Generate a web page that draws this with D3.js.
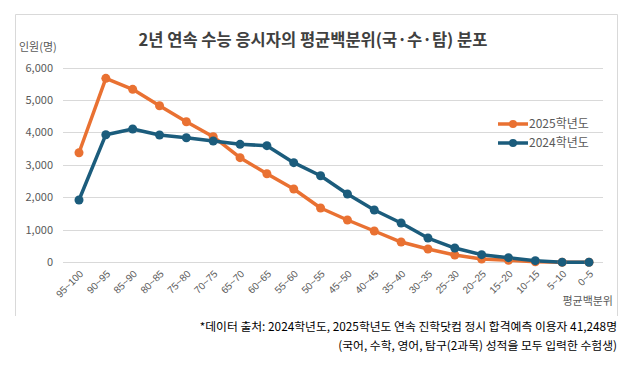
<!DOCTYPE html>
<html><head><meta charset="utf-8">
<script src="https://cdn.jsdelivr.net/npm/d3@7"></script>
<style>
body{margin:0;background:#fff;}
svg{display:block;font-family:"Noto Sans CJK KR","Noto Sans",sans-serif;}
</style></head>
<body>
<svg id="c" width="635" height="365"></svg>
<script>
const categories = ["95~100","90~95","85~90","80~85","75~80","70~75","65~70","60~65","55~60","50~55","45~50","40~45","35~40","30~35","25~30","20~25","15~20","10~15","5~10","0~5"];
const values2025 = [3375,5667,5328,4823,4330,3868,3222,2729,2257,1672,1303,964,625,410,225,100,60,15,0,0];
const values2024 = [1919,3930,4105,3920,3837,3736,3634,3592,3068,2667,2103,1610,1210,748,440,235,142,50,5,0];
const yTicks = [0,1000,2000,3000,4000,5000,6000];
const seriesNames = ["2025학년도","2024학년도"];
const colors = ["#E97132","#1B5C7C"];

const svg = d3.select("#c");
// frame
svg.append("path").attr("d","M15.5,316 V14.5 H617.5 V316").attr("fill","none").attr("stroke","#d9d9d9").attr("stroke-width",1);

const x = d3.scalePoint().domain(categories).range([79,589]);
const y = d3.scaleLinear().domain([0,6000]).range([262.3,67.5]);

// gridlines
svg.append("g").selectAll("line").data(yTicks).join("line")
  .attr("x1",63).attr("x2",603)
  .attr("y1",d=>Math.round(y(d))+0.5).attr("y2",d=>Math.round(y(d))+0.5)
  .attr("stroke","#d9d9d9").attr("stroke-width",1);

// y axis
const yAxis = d3.axisLeft(y).tickValues(yTicks).tickFormat(d3.format(",")).tickSize(0).tickPadding(0);
const ya = svg.append("g").attr("transform","translate(53,0)").call(yAxis);
ya.select(".domain").remove();
ya.selectAll("text").attr("font-size","11px").attr("fill","#595959").attr("font-family","'Noto Sans CJK KR',sans-serif");

// x axis
const xAxis = d3.axisBottom(x).tickSize(0).tickPadding(0);
const xa = svg.append("g").attr("transform","translate(0,270)").call(xAxis);
xa.select(".domain").remove();
xa.selectAll("text").attr("font-size","10px").attr("fill","#595959")
  .attr("text-anchor","end").attr("dy","0.35em")
  .attr("transform","translate(2,2) rotate(-45)");

// lines
const line = d3.line().x((d,i)=>x(categories[i])).y(d=>y(d));
[values2025, values2024].forEach((vals,k)=>{
  svg.append("path").datum(vals).attr("d",line).attr("fill","none")
    .attr("stroke",colors[k]).attr("stroke-width",3.5).attr("stroke-linejoin","round");
});
[values2025, values2024].forEach((vals,k)=>{
  svg.append("g").selectAll("circle").data(vals).join("circle")
    .attr("cx",(d,i)=>x(categories[i])).attr("cy",d=>y(d)).attr("r",4.5).attr("fill",colors[k]);
});

// title
svg.append("text").attr("x",313).attr("y",46).attr("text-anchor","middle")
  .attr("font-size","16.5px").attr("font-weight","bold").attr("fill","#404040")
  .text("2년 연속 수능 응시자의 평균백분위(국·수·탐) 분포");

// y title
svg.append("text").attr("x",19).attr("y",51).attr("font-size","11px").attr("fill","#595959").text("인원(명)");
// x title
svg.append("text").attr("x",613).attr("y",305).attr("text-anchor","end").attr("font-size","11px").attr("fill","#595959").text("평균백분위");

// legend
seriesNames.forEach((n,k)=>{
  const ly = 124 + k*19;
  svg.append("line").attr("x1",498).attr("x2",528).attr("y1",ly).attr("y2",ly).attr("stroke",colors[k]).attr("stroke-width",3.5);
  svg.append("circle").attr("cx",513).attr("cy",ly).attr("r",4).attr("fill",colors[k]);
  svg.append("text").attr("x",529).attr("y",ly).attr("dy","0.35em").attr("font-size","12px").attr("fill","#595959").text(n);
});

// footnote
svg.append("text").attr("x",617).attr("y",331).attr("text-anchor","end").attr("font-size","11.8px").attr("fill","#000")
  .text("*데이터 출처: 2024학년도, 2025학년도 연속 진학닷컴 정시 합격예측 이용자 41,248명");
svg.append("text").attr("x",617).attr("y",350).attr("text-anchor","end").attr("font-size","11.8px").attr("fill","#000")
  .text("(국어, 수학, 영어, 탐구(2과목) 성적을 모두 입력한 수험생)");
</script>
</body></html>
